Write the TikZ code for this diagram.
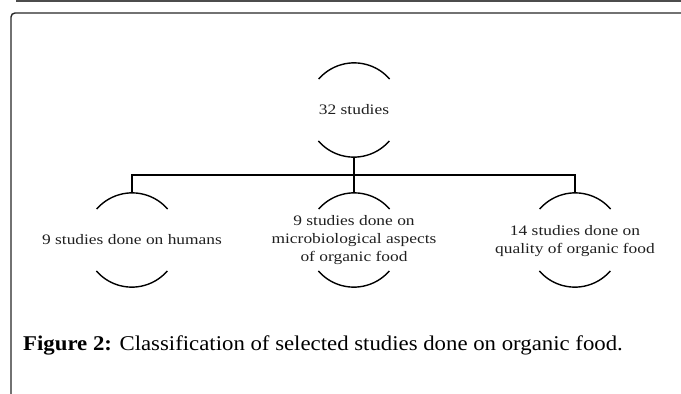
\documentclass[tikz,border=0pt]{standalone}
\usepackage{fontspec}
\setmainfont{Liberation Serif}
\newfontfamily\diagfont[FakeStretch=1.2]{Liberation Serif}
\newfontfamily\capfont[FakeStretch=1.085]{Liberation Serif}
\begin{document}
\begin{tikzpicture}[x=1pt,y=1pt,
  bubble/.style={circle,minimum size=94pt,inner sep=0pt,draw=none},
  bubtext/.style={align=center,font=\diagfont\fontsize{14.5}{18}\selectfont,text=black!88,inner sep=0pt},
  arcline/.style={line width=1.4pt,black},
  conn/.style={line width=1.4pt,black},
  framel/.style={line width=1.4pt,black!70}]
\useasboundingbox (0,0) rectangle (681,-394);
% page frame
\draw[framel] (16,-1) -- (681,-1);
\draw[framel,black!85,rounded corners=4pt] (11,-394) -- (11,-13) -- (681,-13);
% bubbles
\node[bubble] (c0) at (354,-110) {};
\node[bubble] (c1) at (132,-240) {};
\node[bubble] (c2) at (354,-240) {};
\node[bubble] (c3) at (575,-240) {};
\foreach \n in {c0,c1,c2,c3}{
  \draw[arcline] (\n.41) arc[start angle=41,end angle=139,radius=47pt];
  \draw[arcline] (\n.221) arc[start angle=221,end angle=319,radius=47pt];
}
\node[bubtext] (t0) at (c0) {32 studies};
\node[bubtext] (t1) at (c1) {9 studies done on humans};
\node[bubtext] (t2) at (c2) {9 studies done on\\microbiological aspects\\of organic food};
\node[bubtext] (t3) at ([yshift=-1pt]c3) {14 studies done on\\quality of organic food};
% connectors
\coordinate (j) at (354,-175);
\draw[conn] (c0.south) -- (j);
\draw[conn] (c1.north) |- (j) -| (c3.north);
\draw[conn] (j) -- (c2.north);
% caption
\node[anchor=base west,inner sep=0pt,font=\capfont\fontsize{21}{24}\selectfont] (cap) at (23,-350)
  {\textbf{Figure 2:} Classification of selected studies done on organic food.};
\end{tikzpicture}
\end{document}
